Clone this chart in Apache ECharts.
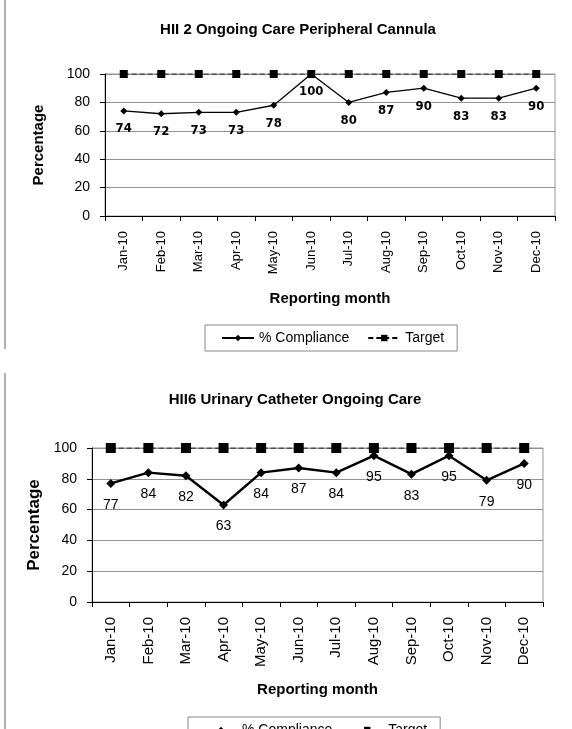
<!DOCTYPE html>
<html>
<head>
<meta charset="utf-8">
<script src="https://cdn.jsdelivr.net/npm/echarts@6/dist/echarts.min.js"></script>
<style>
  html, body { margin: 0; padding: 0; background: #fff; }
  #chart { width: 572px; height: 729px; }
</style>
</head>
<body>
<div id="chart"></div>
<script>
// Reporting months shared by both panels
const months = ['Jan-10', 'Feb-10', 'Mar-10', 'Apr-10', 'May-10', 'Jun-10',
                'Jul-10', 'Aug-10', 'Sep-10', 'Oct-10', 'Nov-10', 'Dec-10'];

// HII 2 – peripheral cannula ongoing care (% compliance per month)
const cannulaCompliance = [74, 72, 73, 73, 78, 100, 80, 87, 90, 83, 83, 90];
const cannulaTarget = [100, 100, 100, 100, 100, 100, 100, 100, 100, 100, 100, 100];

// HII 6 – urinary catheter ongoing care (% compliance per month)
const catheterCompliance = [77, 84, 82, 63, 84, 87, 84, 95, 83, 95, 79, 90];
const catheterTarget = [100, 100, 100, 100, 100, 100, 100, 100, 100, 100, 100, 100];

// Percentage axis range
const yMin = 0, yMax = 100, yStep = 20;

const FONT = "'Liberation Sans', Arial, sans-serif";
const NARROW = "'Liberation Sans Narrow', 'Arial Narrow', 'DejaVu Sans Condensed', sans-serif";

function xAxisFor(gridIndex, labelSize, nameGap) {
  return {
    type: 'category', gridIndex, data: months, boundaryGap: true,
    name: 'Reporting month', nameLocation: 'middle', nameGap,
    nameTextStyle: { fontFamily: FONT, fontSize: 15, fontWeight: 'bold', color: '#000' },
    axisLine: { lineStyle: { color: '#000', width: 1 } },
    axisTick: { show: true, length: 5, lineStyle: { color: '#000' } },
    axisLabel: { rotate: 90, margin: 15, fontFamily: FONT, fontSize: labelSize, color: '#000' },
    splitLine: { show: false }
  };
}

function yAxisFor(gridIndex, nameGap, nameSize) {
  return {
    type: 'value', gridIndex, min: yMin, max: yMax, interval: yStep,
    name: 'Percentage', nameLocation: 'middle', nameGap,
    nameTextStyle: { fontFamily: FONT, fontSize: nameSize, fontWeight: 'bold', color: '#000' },
    axisLine: { show: true, lineStyle: { color: '#000', width: 1 } },
    axisTick: { show: true, length: 5, lineStyle: { color: '#000' } },
    axisLabel: { margin: 15, fontFamily: FONT, fontSize: 14, color: '#000' },
    splitLine: { show: true, lineStyle: { color: '#929292', width: 1 } }
  };
}

const chart = echarts.init(document.getElementById('chart'), null, { renderer: 'canvas' });

chart.setOption({
  backgroundColor: '#fff',
  animation: false,
  title: [
    { text: 'HII 2 Ongoing Care Peripheral Cannula', left: 293, top: 17, textAlign: 'center',
      textStyle: { fontFamily: FONT, fontSize: 15, fontWeight: 'bold', color: '#000' } },
    { text: 'HII6 Urinary Catheter Ongoing Care', left: 290, top: 387, textAlign: 'center',
      textStyle: { fontFamily: FONT, fontSize: 15, fontWeight: 'bold', color: '#000' } }
  ],
  legend: [
    { left: 205, top: 325, orient: 'horizontal', data: ['% Compliance', 'Target'],
      borderColor: '#888', borderWidth: 1, padding: [6, 13, 6, 16],
      itemWidth: 32, itemHeight: 8, itemGap: 18,
      textStyle: { fontFamily: FONT, fontSize: 14, color: '#000' }, selectedMode: false },
    { left: 188, top: 717, orient: 'horizontal', data: ['% Compliance', 'Target'],
      borderColor: '#888', borderWidth: 1, padding: [6, 13, 6, 16],
      itemWidth: 32, itemHeight: 8, itemGap: 18,
      textStyle: { fontFamily: FONT, fontSize: 14, color: '#000' }, selectedMode: false }
  ],
  grid: [
    { left: 105, top: 74, width: 450, height: 142, show: true, borderColor: '#999', borderWidth: 1, containLabel: false },
    { left: 92, top: 448, width: 451, height: 154, show: true, borderColor: '#999', borderWidth: 1, containLabel: false }
  ],
  xAxis: [xAxisFor(0, 13, 75), xAxisFor(1, 15, 80)],
  yAxis: [yAxisFor(0, 59, 15), yAxisFor(1, 49, 17)],
  series: [
    {
      name: '% Compliance', type: 'line', xAxisIndex: 0, yAxisIndex: 0, data: cannulaCompliance,
      symbol: 'diamond', symbolSize: 7, z: 3,
      lineStyle: { color: '#000', width: 1.3 }, itemStyle: { color: '#000' },
      label: { show: true, position: 'bottom', distance: 8, fontFamily: NARROW,
               fontSize: 13, fontWeight: 'bold', color: '#000' }
    },
    {
      name: 'Target', type: 'line', xAxisIndex: 0, yAxisIndex: 0, data: cannulaTarget,
      symbol: 'rect', symbolSize: 8, z: 4,
      lineStyle: { color: '#000', width: 1.2, type: [5, 3] }, itemStyle: { color: '#000' }
    },
    {
      name: '% Compliance', type: 'line', xAxisIndex: 1, yAxisIndex: 1, data: catheterCompliance,
      symbol: 'diamond', symbolSize: 9, z: 3,
      lineStyle: { color: '#000', width: 2.4 }, itemStyle: { color: '#000' },
      label: { show: true, position: 'bottom', distance: 10, fontFamily: FONT,
               fontSize: 14, color: '#000' }
    },
    {
      name: 'Target', type: 'line', xAxisIndex: 1, yAxisIndex: 1, data: catheterTarget,
      symbol: 'rect', symbolSize: 10, z: 4,
      lineStyle: { color: '#000', width: 1.2, type: [5, 3] }, itemStyle: { color: '#000' }
    }
  ],
  graphic: [
    // page margin rules beside each panel
    { type: 'rect', shape: { x: 4, y: 0, width: 2, height: 349 }, style: { fill: '#b0b0b0' }, silent: true },
    { type: 'rect', shape: { x: 4, y: 373, width: 2, height: 356 }, style: { fill: '#b0b0b0' }, silent: true }
  ]
});
</script>
</body>
</html>
